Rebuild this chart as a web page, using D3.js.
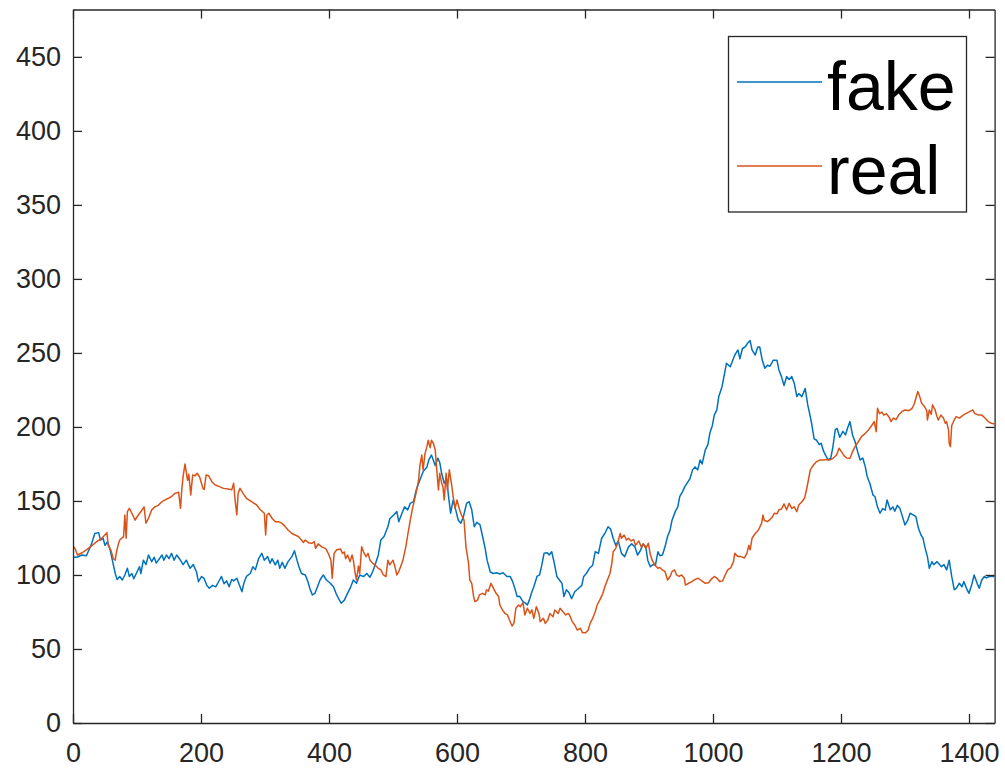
<!DOCTYPE html>
<html>
<head>
<meta charset="utf-8">
<script src="https://cdn.jsdelivr.net/npm/d3@7"></script>
<style>
  html, body { margin: 0; padding: 0; background: #ffffff; }
  svg { display: block; }
  .tick text { font-family: "Liberation Sans", Arial, Helvetica, sans-serif; }
</style>
</head>
<body>
<svg id="chart" width="1005" height="769"></svg>
<script>
// Sample index vs. value, [x, y] pairs
const fakeSeries = [
  [0,112],[6,112],[14,113.5],[21,113],[25,117],[29,121],[34,128],[40,128.6],[43,123.6],[47,124.8],[50,120],[54,122.5],[58,117],[62,109],[66,101],[69,97],[73,99],[77,96.6],[81,100],[85,104.5],[88,99],[92,101],[95,97.5],[100,102],[104,105.6],[106,101],[110,110],[114,107],[118,113.5],[123,109],[127,112],[130,108],[135,111],[139,113.5],[142,110],[146,113.5],[150,111],[154,114.6],[158,110],[162,113.5],[167,110.6],[172,107],[177,110],[183,104.5],[188,107],[193,102],[196,95.5],[201,99],[205,97.5],[209,93],[213,91],[218,93],[223,92],[229,96.6],[232,99],[236,94],[240,96],[244,92],[248,97],[251,96],[256,97.8],[261,92],[264,88.7],[267,94.4],[271,99],[277,101],[281,105.6],[285,103.6],
  [290,111],[295,114.6],[299,110],[304,112.4],[308,108],[311,111],[316,106.8],[320,110],[323,104.5],[327,108.5],[331,104.5],[336,109],[342,112.4],[346,116.4],[350,110],[353,105.6],[357,101],[363,100],[367,95.5],[370,91],[374,86.5],[378,87.6],[382,92],[386,96.6],[391,100],[396,96.6],[402,94.4],[407,92],[412,86.5],[419,80.9],[424,83],[429,87.6],[434,92],[438,96.6],[443,94.4],[448,100],[454,98.9],[459,101],[464,98.5],[468,102],[472,106.8],[477,113.5],[481,123.6],[486,126],[492,132.6],[495,138],[501,140.5],[506,142.8],[509,136],[514,141.7],[518,146],[523,144],[527,148.4],[532,149.5],[536,157],[540,162],[544,166.4],[547,169.8],[553,173],[556,177.7],[560,181],[566,174],[570,178.9],
  [573,176],[576,168.7],[580,162],[584,165],[586,156],[590,141.7],[594,150.7],[598,144],[602,137],[606,135],[610,139.4],[615,148.4],[619,149.5],[623,144],[627,132.6],[631,135.6],[636,133.8],[640,126],[644,118],[647,110],[652,102],[657,101],[662,101.5],[667,100.7],[672,101.5],[678,99],[683,99],[687,95.5],[691,90],[694,85.4],[698,85.6],[703,82],[707,81],[710,79.7],[713,83],[717,88.7],[720,92],[725,99],[729,100],[732,105.6],[736,114.6],[741,115],[744,113.5],[748,115.7],[752,108],[756,99],[760,96.6],[764,94.4],[767,85.4],[771,90],[775,88],[779,84],[784,88.7],[790,91],[795,93],[798,99],[802,101],[807,104.5],[812,106.6],[816,115.7],[821,114.6],[826,124.8],[831,128],[836,132.6],[840,131],[844,124.8],[848,120],[852,123],[857,114.6],
  [862,112.4],[868,119],[873,121],[878,119],[882,113.5],[886,116],[891,121],[895,119],[898,110],[902,105.6],[906,107],[910,106.5],[914,115.7],[917,113],[921,113.5],[925,119],[929,126],[933,130.4],[936,137],[941,142.8],[945,146],[948,153],[952,156],[956,159.7],[961,163],[964,165],[968,171],[972,173],[976,171],[980,177.7],[983,175],[988,184.5],[992,188],[995,195.7],[999,201],[1002,208],[1006,211.5],[1009,220.5],[1014,227],[1018,236],[1021,243],[1027,240.7],[1030,244],[1034,248.6],[1039,252],[1042,246],[1046,253],[1050,254],[1054,256.5],[1058,258.3],[1061,252],[1066,248.6],[1070,254],[1073,254],[1077,245],[1081,239.6],[1085,241.7],[1089,241],[1094,245],[1100,245],[1103,238.5],[1107,234],[1111,228],[1115,234],[1119,232],[1123,234],[1127,229.5],[1131,220.5],[1134,222.5],[1139,220.5],[1144,226],[1148,215],
  [1152,207],[1154,202.5],[1158,192],[1162,191],[1166,188],[1169,189],[1173,183.3],[1177,180],[1180,177.7],[1184,179],[1187,185.6],[1191,198],[1194,199],[1198,193],[1203,197],[1207,194.6],[1210,199],[1214,203.6],[1218,194.6],[1222,190],[1226,183.3],[1230,177.7],[1234,179],[1238,173],[1241,166.4],[1245,162],[1250,154],[1253,153],[1257,146],[1261,141.7],[1265,144.8],[1269,143.8],[1272,150.7],[1277,144],[1281,146],[1284,143],[1288,147],[1292,145],[1296,139.4],[1300,133.8],[1304,136.7],[1308,141.7],[1312,140.8],[1317,139.4],[1321,131.5],[1325,127],[1328,125],[1331,119],[1335,112.4],[1338,104.5],[1342,109],[1345,107],[1350,109],[1354,107],[1357,105.6],[1361,107],[1365,103.4],[1369,110],[1373,99],[1377,90],[1380,91],[1385,94.4],[1389,92],[1392,95.5],[1396,91],[1400,87.6],[1404,93],[1408,100],[1413,94],[1416,91],[1420,96.6],[1424,99],[1427,98],[1432,99],[1437,99],[1440,99]
];

const realSeries = [
  [0,119.6],[3,118],[7,113.5],[14,115],[21,117],[29,119.6],[37,122.5],[45,124.8],[53,128.6],[55,120],[59,117],[63,111],[66,110],[68,115.7],[71,121],[73,123.6],[79,125.9],[81,140.5],[83,124.8],[85,142.8],[88,145],[92,141.7],[97,137],[102,140.5],[107,143.4],[111,146],[114,135],[118,138.3],[123,144],[128,146],[133,147],[139,149.5],[144,150.7],[149,151.8],[154,153],[159,155],[165,156],[168,145],[170,158],[172,166.4],[175,175],[179,164],[181,168],[184,154],[187,167.6],[191,167],[194,168.7],[198,166],[203,158.5],[205,157.8],[208,167.6],[212,167],[217,163],[222,160.8],[229,159.7],[235,158.5],[243,158],[248,157.5],[251,162],[253,151.8],[256,140.5],[258,155],[261,158.5],[266,155],[271,151.8],[279,149.5],[287,147.3],
  [292,144.4],[299,141.7],[301,127],[303,140.5],[306,141.7],[311,138.3],[316,136],[321,136],[326,135],[331,133],[336,130.4],[342,128],[347,127],[352,126],[357,123.6],[360,122],[363,123.6],[368,121.8],[373,121.4],[377,122.5],[379,118],[383,121],[389,119],[394,118],[396,117],[400,113.5],[403,110],[405,97.8],[408,114.6],[412,117],[418,117.6],[421,114.6],[424,115.5],[426,111],[429,113.5],[433,109],[436,113.5],[438,110],[441,101],[443,96.6],[446,106],[448,101],[451,119],[454,115.5],[458,112.4],[461,114.6],[464,110],[468,108],[472,106.8],[477,104.5],[481,103.4],[485,100],[489,98.9],[492,110],[495,106.8],[500,110],[503,105.6],[506,100],[509,102.3],[514,108],[516,111],[520,119],[523,127],[527,137],[530,144],[533,149.5],[537,157.4],[540,164],[542,174],[545,181],[547,171],[550,182],[553,186.7],[555,191],[558,186],[560,191],[563,189],[566,184.5],[568,173],[571,157.4],[573,168.7],[576,162],
  [578,159.7],[580,150.7],[583,168.7],[585,157.4],[588,171],[592,159.7],[594,153],[597,145],[600,150.7],[604,144],[607,140.5],[611,137],[614,119],[618,108],[620,96.6],[623,94.4],[626,85.4],[628,82],[632,83],[635,86.5],[640,87.6],[644,86.5],[646,90],[649,89],[653,94.4],[657,91],[661,87.6],[665,85.4],[667,79.7],[671,76.4],[675,74],[679,73],[682,69.6],[686,65.5],[689,67.6],[692,77.5],[696,79.7],[699,78.6],[703,81.3],[706,73],[710,77.5],[714,74],[717,76.4],[720,70.7],[724,78.6],[728,74],[730,68.5],[735,70.7],[738,67.3],[742,69.6],[745,74],[750,71.8],[753,76.4],[758,74],[761,77.5],[766,75],[770,73],[774,74],[777,71.8],[780,68.5],[784,66.2],[788,62.8],[793,64],[796,61],[801,61],[805,62.8],[808,67.3],[812,70.7],[816,75.2],[819,79.7],[823,83],[828,87.6],[831,92],[835,96.6],[839,101],[842,108],[844,115.7],[848,118],[851,121.4],[855,128],[857,124.8],[861,127],
  [865,123.6],[868,124.8],[872,123],[876,124],[879,120],[884,123],[888,119],[891,121],[895,118],[899,121.4],[902,114],[905,110],[909,106.8],[914,104.5],[917,105],[921,103.4],[925,102.3],[929,96.6],[933,99],[936,102.3],[940,103.4],[943,100],[947,99],[951,100],[955,97.8],[957,93.2],[962,94.4],[967,95.5],[972,97],[977,97.8],[982,96.2],[988,94.4],[993,94.8],[997,97],[1002,99],[1006,97.8],[1011,95.5],[1015,96],[1019,100],[1023,103.4],[1028,105],[1032,109],[1034,114.6],[1039,112.4],[1044,112.4],[1049,111.5],[1053,114.6],[1056,120],[1058,117],[1061,124.8],[1066,128],[1071,130.4],[1076,135],[1078,140.5],[1080,137],[1085,136],[1089,137.4],[1093,139.4],[1096,141.7],[1100,141.3],[1103,144],[1107,144.5],[1111,148],[1115,144],[1119,148.4],[1123,145],[1127,146],[1131,142.8],[1134,147.3],[1139,149.5],[1143,151.8],[1146,157.4],[1149,164],[1152,171],
  [1155,173],[1157,174.3],[1162,176.6],[1167,177.7],[1173,177.7],[1178,178],[1183,177.7],[1188,179],[1193,181],[1197,185.6],[1201,183],[1205,180.4],[1209,179],[1214,178.9],[1218,183.3],[1222,186.7],[1227,190],[1232,193.5],[1238,195.7],[1243,198],[1248,201],[1252,203.6],[1255,196.8],[1257,212.6],[1260,209],[1264,210],[1267,208],[1271,209],[1276,206],[1278,203.6],[1282,206],[1286,205],[1290,208],[1295,210.3],[1300,211.5],[1306,211],[1311,212.6],[1314,215],[1317,219.4],[1320,223.9],[1323,220.5],[1326,216],[1330,214],[1334,211],[1335,204.7],[1338,211.5],[1341,208.5],[1343,215],[1347,211.5],[1350,207],[1352,204.7],[1356,208],[1360,206],[1363,202.5],[1365,203.6],[1368,198],[1369,189],[1371,186.7],[1373,201],[1377,204.7],[1380,207],[1385,206],[1391,208],[1395,209],[1401,210.3],[1406,211.5],[1409,209],[1415,208],[1420,208],[1425,206],[1430,203.6],[1435,202.5],[1440,202]
];

const xTicks = [0, 200, 400, 600, 800, 1000, 1200, 1400];
const yTicks = [0, 50, 100, 150, 200, 250, 300, 350, 400, 450];
const seriesNames = ["fake", "real"];
const seriesColors = ["#0072BD", "#D95319"];

const svg = d3.select("#chart");
const plot = { left: 73, right: 994.6, top: 9.5, bottom: 723 };

const x = d3.scaleLinear().domain([0, 1440]).range([plot.left, plot.right]);
const y = d3.scaleLinear().domain([0, 482]).range([plot.bottom, plot.top]);

const axisColor = "#262626";
const tickFont = 27;
const fmt = d3.format("d");

// clip region for the data lines
svg.append("defs").append("clipPath").attr("id", "plotClip")
  .append("rect")
  .attr("x", plot.left).attr("y", plot.top)
  .attr("width", plot.right - plot.left).attr("height", plot.bottom - plot.top);

// data lines
const line = d3.line().x(d => x(d[0])).y(d => y(d[1]));
const lines = svg.append("g").attr("clip-path", "url(#plotClip)");
[fakeSeries, realSeries].forEach((s, i) => {
  lines.append("path")
    .datum(s)
    .attr("fill", "none")
    .attr("stroke", seriesColors[i])
    .attr("stroke-width", 1.5)
    .attr("stroke-linejoin", "round")
    .attr("d", line);
});

// axes: ticks point inward on all four sides
function styleAxis(g, showLabels) {
  g.select(".domain").attr("stroke", axisColor).attr("stroke-width", 1.3);
  g.selectAll(".tick line").attr("stroke", axisColor).attr("stroke-width", 1.3);
  g.selectAll(".tick text")
    .attr("fill", axisColor)
    .style("font-size", tickFont + "px")
    .style("display", showLabels ? null : "none");
}

const xAxisBottom = svg.append("g")
  .attr("transform", `translate(0,${plot.bottom})`)
  .call(d3.axisBottom(x).tickValues(xTicks).tickFormat(fmt).tickSizeInner(-9).tickSizeOuter(0).tickPadding(20));
styleAxis(xAxisBottom, true);

const xAxisTop = svg.append("g")
  .attr("transform", `translate(0,${plot.top})`)
  .call(d3.axisTop(x).tickValues(xTicks).tickFormat(fmt).tickSizeInner(-9).tickSizeOuter(0));
styleAxis(xAxisTop, false);

const yAxisLeft = svg.append("g")
  .attr("transform", `translate(${plot.left},0)`)
  .call(d3.axisLeft(y).tickValues(yTicks).tickFormat(fmt).tickSizeInner(-9).tickSizeOuter(0).tickPadding(12));
styleAxis(yAxisLeft, true);

const yAxisRight = svg.append("g")
  .attr("transform", `translate(${plot.right},0)`)
  .call(d3.axisRight(y).tickValues(yTicks).tickFormat(fmt).tickSizeInner(-9).tickSizeOuter(0));
styleAxis(yAxisRight, false);

// legend
const legend = svg.append("g");
legend.append("rect")
  .attr("x", 728.5).attr("y", 36.5)
  .attr("width", 238).attr("height", 175.5)
  .attr("fill", "#ffffff")
  .attr("stroke", axisColor)
  .attr("stroke-width", 1.3);

const legendRows = [82, 166];
seriesNames.forEach((name, i) => {
  legend.append("line")
    .attr("x1", 737).attr("x2", 822)
    .attr("y1", legendRows[i]).attr("y2", legendRows[i])
    .attr("stroke", seriesColors[i])
    .attr("stroke-width", 1.5);
  legend.append("text")
    .attr("x", 827)
    .attr("y", legendRows[i] + 28)
    .attr("fill", "#000000")
    .style("font-family", "\"Liberation Sans\", Arial, Helvetica, sans-serif")
    .style("font-size", "68px")
    .text(name);
});
</script>
</body>
</html>
